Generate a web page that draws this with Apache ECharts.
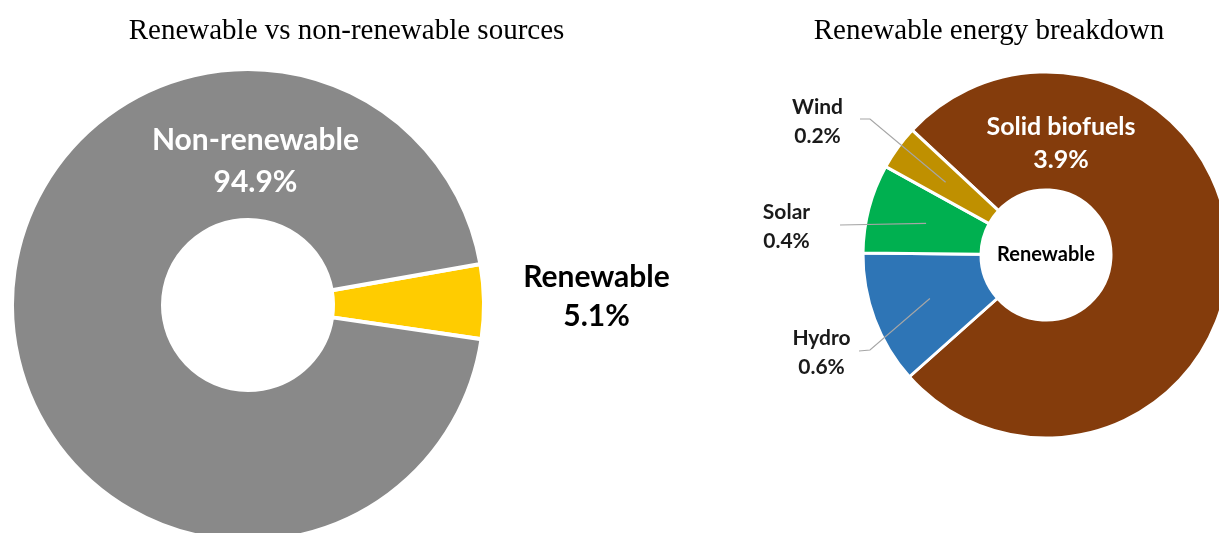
<!DOCTYPE html>
<html>
<head>
<meta charset="utf-8">
<script src="https://cdn.jsdelivr.net/npm/echarts@6/dist/echarts.min.js"></script>
<style>
  html, body { margin: 0; padding: 0; background: #ffffff; }
  #chart { width: 1219px; height: 533px; }
</style>
</head>
<body>
<div id="chart"></div>
<script>
// Share of renewable vs non-renewable sources (%)
const shareCategories = ['Renewable', 'Non-renewable'];
const shareValues = [5.1, 94.9];

// Breakdown of the renewable share (% of total)
const renewableCategories = ['Solid biofuels', 'Hydro', 'Solar', 'Wind'];
const renewableValues = [3.9, 0.6, 0.4, 0.2];

const chartTitles = ['Renewable vs non-renewable sources', 'Renewable energy breakdown'];
const centreText = 'Renewable';

// ---- layout & style ----
const LABEL_FONT = 'Lato, "Noto Sans", sans-serif';
const TITLE_FONT = '"Liberation Serif", "Times New Roman", serif';
const leftPie = { center: [248, 305], radius: [85, 236] };
const rightPie = { center: [1046, 255], radius: [65, 183] };
const titleCentres = [346.5, 989];

const shareColors = { 'Renewable': '#FFCC00', 'Non-renewable': '#898989' };
const renewableColors = {
  'Solid biofuels': '#843C0C',
  'Hydro': '#2E75B6',
  'Solar': '#00B050',
  'Wind': '#BF9000'
};
const INSIDE_LABEL = 'Solid biofuels';

// label centres, offset from the pie centre
const leftSpots = { 'Renewable': [348.5, -8], 'Non-renewable': [7.5, -144] };
// leader lines: points after the anchor, offset from the label centre
const rightSpots = {
  'Solid biofuels': { at: [15, -111.5] },
  'Wind':  { at: [-228.5, -133], line: [[52.5, -3], [42.5, -3]] },
  'Solar': { at: [-259.5, -28],  line: [[53.5, -2]] },
  'Hydro': { at: [-224.5, 98],   line: [[48.5, -3], [37.5, -2]] }
};

function rightLabelLayout(p) {
  const spot = rightSpots[renewableCategories[p.dataIndex]];
  const lx = rightPie.center[0] + spot.at[0];
  const ly = rightPie.center[1] + spot.at[1];
  const out = { x: lx, y: ly, align: 'center', verticalAlign: 'middle' };
  if (spot.line && p.labelLinePoints && p.labelLinePoints.length) {
    out.labelLinePoints = [p.labelLinePoints[0]].concat(
      spot.line.map(d => [lx + d[0], ly + d[1]])
    );
  }
  return out;
}

const chart = echarts.init(document.getElementById('chart'), null, { renderer: 'canvas' });

const option = {
  backgroundColor: '#ffffff',
  animation: false,
  title: chartTitles.map((t, i) => ({
    text: t,
    left: titleCentres[i],
    top: 17,
    padding: 0,
    textAlign: 'center',
    textStyle: { fontFamily: TITLE_FONT, fontSize: 29, fontWeight: 'normal', color: '#000000' }
  })),
  series: [
    {
      type: 'pie',
      center: leftPie.center,
      radius: leftPie.radius,
      startAngle: 10,
      clockwise: true,
      silent: true,
      avoidLabelOverlap: false,
      emphasis: { disabled: true },
      itemStyle: { borderColor: '#ffffff', borderWidth: 4 },
      label: {
        show: true,
        position: 'inside',
        formatter: '{b}\n{c}%',
        fontFamily: LABEL_FONT,
        fontWeight: 'bold',
        fontSize: 30
      },
      labelLine: { show: false },
      labelLayout: function (p) {
        const o = leftSpots[shareCategories[p.dataIndex]];
        return {
          x: leftPie.center[0] + o[0],
          y: leftPie.center[1] + o[1],
          align: 'center',
          verticalAlign: 'middle'
        };
      },
      data: shareCategories.map((name, i) => ({
        name: name,
        value: shareValues[i],
        itemStyle: { color: shareColors[name] },
        label: name === 'Renewable'
          ? { color: '#000000', lineHeight: 39 }
          : { color: '#ffffff', lineHeight: 42 }
      }))
    },
    {
      // breakdown ring; only the large slice carries its label inside
      type: 'pie',
      center: rightPie.center,
      radius: rightPie.radius,
      startAngle: 137,
      clockwise: true,
      silent: true,
      avoidLabelOverlap: false,
      emphasis: { disabled: true },
      itemStyle: { borderColor: '#ffffff', borderWidth: 3 },
      label: {
        show: true,
        position: 'inside',
        formatter: '{b}\n{c}%',
        fontFamily: LABEL_FONT,
        fontWeight: 'bold',
        color: '#ffffff',
        fontSize: 25,
        lineHeight: 33
      },
      labelLine: { show: false },
      labelLayout: rightLabelLayout,
      data: renewableCategories.map((name, i) => ({
        name: name,
        value: renewableValues[i],
        itemStyle: { color: renewableColors[name] },
        label: { show: name === INSIDE_LABEL }
      }))
    },
    {
      // same slices out to mid-ring, carrying the outside labels and leader lines
      type: 'pie',
      z: 3,
      center: rightPie.center,
      radius: [rightPie.radius[0], (rightPie.radius[0] + rightPie.radius[1]) / 2],
      startAngle: 137,
      clockwise: true,
      silent: true,
      avoidLabelOverlap: false,
      emphasis: { disabled: true },
      itemStyle: { color: 'rgba(0,0,0,0)' },
      label: {
        show: true,
        position: 'outside',
        formatter: '{b}\n{c}%',
        fontFamily: LABEL_FONT,
        fontWeight: 'bold',
        color: '#1a1a1a',
        fontSize: 21,
        lineHeight: 29
      },
      labelLine: {
        show: true,
        length: 10,
        length2: 10,
        lineStyle: { color: '#a6a6a6', width: 1.2 }
      },
      labelLayout: rightLabelLayout,
      data: renewableCategories.map((name, i) => ({
        name: name,
        value: renewableValues[i],
        label: { show: name !== INSIDE_LABEL },
        labelLine: { show: name !== INSIDE_LABEL }
      }))
    },
    {
      // centre caption of the breakdown ring
      type: 'pie',
      center: rightPie.center,
      radius: [0, rightPie.radius[0] - 4],
      silent: true,
      emphasis: { disabled: true },
      itemStyle: { color: 'rgba(0,0,0,0)' },
      label: {
        show: true,
        position: 'center',
        formatter: '{b}',
        fontFamily: LABEL_FONT,
        fontWeight: 'bold',
        fontSize: 20,
        color: '#000000'
      },
      labelLine: { show: false },
      data: [{ name: centreText, value: 1 }]
    }
  ]
};

chart.setOption(option);
</script>
</body>
</html>
